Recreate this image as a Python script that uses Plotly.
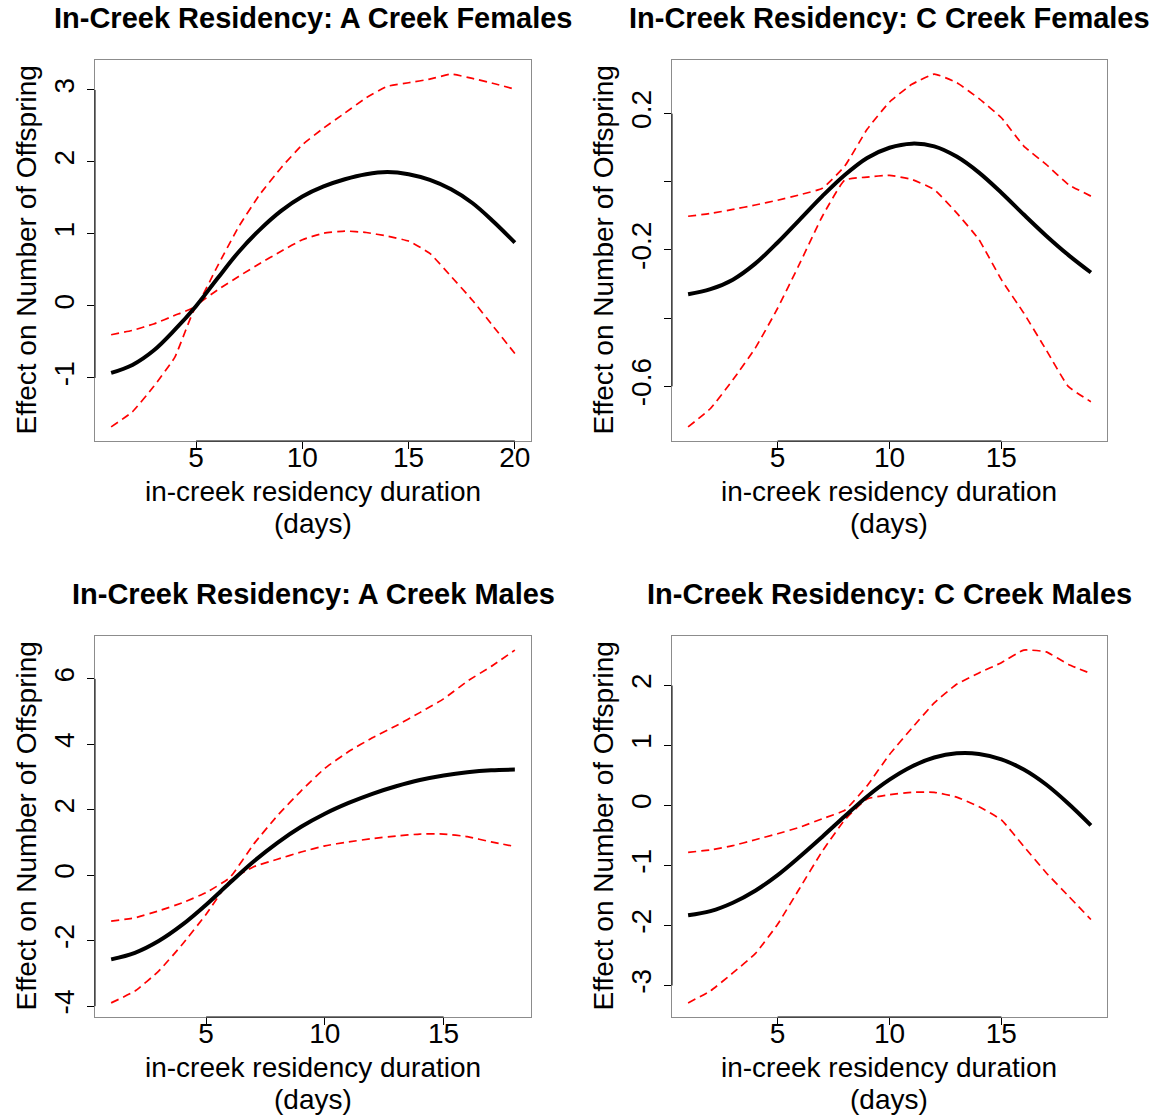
import plotly.graph_objects as go

# ---------------- data ----------------
# Panel A: In-Creek Residency: A Creek Females
days_af = list(range(1, 21))
fit_af = [-0.93, -0.82, -0.62, -0.33, 0.00, 0.38, 0.75, 1.06, 1.32, 1.52,
          1.66, 1.76, 1.83, 1.86, 1.83, 1.75, 1.62, 1.43, 1.17, 0.88]
upper_af = [-0.40, -0.34, -0.25, -0.13, 0.00, 0.55, 1.10, 1.55, 1.92, 2.24,
            2.47, 2.68, 2.89, 3.05, 3.10, 3.15, 3.22, 3.16, 3.09, 3.01]
lower_af = [-1.68, -1.47, -1.12, -0.71, 0.00, 0.22, 0.41, 0.59, 0.76, 0.92,
            1.01, 1.04, 1.02, 0.97, 0.90, 0.73, 0.41, 0.08, -0.29, -0.66]

# Panel B: In-Creek Residency: C Creek Females
days_cf = list(range(1, 20))
fit_cf = [-0.330, -0.315, -0.287, -0.240, -0.178, -0.110, -0.042, 0.020, 0.070, 0.100,
          0.112, 0.104, 0.074, 0.027, -0.032, -0.096, -0.158, -0.215, -0.266]
upper_cf = [-0.101, -0.093, -0.081, -0.068, -0.054, -0.038, -0.019, 0.046, 0.154, 0.234,
            0.286, 0.316, 0.291, 0.244, 0.188, 0.105, 0.051, -0.008, -0.042]
lower_cf = [-0.719, -0.665, -0.581, -0.488, -0.371, -0.238, -0.101, 0.005, 0.014, 0.019,
            0.007, -0.023, -0.091, -0.170, -0.287, -0.385, -0.493, -0.601, -0.645]

# Panel C: In-Creek Residency: A Creek Males
days_am = list(range(1, 19))
fit_am = [-2.57, -2.37, -2.01, -1.51, -0.90, -0.23, 0.42, 0.99, 1.48, 1.88,
          2.21, 2.49, 2.72, 2.91, 3.05, 3.15, 3.21, 3.23]
upper_am = [-1.40, -1.30, -1.09, -0.84, -0.53, -0.07, 0.95, 1.82, 2.58, 3.27,
            3.78, 4.20, 4.57, 4.97, 5.39, 5.93, 6.38, 6.88]
lower_am = [-3.90, -3.54, -2.93, -2.11, -1.19, -0.17, 0.26, 0.49, 0.71, 0.90,
            1.02, 1.12, 1.20, 1.26, 1.26, 1.18, 1.02, 0.88]

# Panel D: In-Creek Residency: C Creek Males
days_cm = list(range(1, 20))
fit_cm = [-1.83, -1.76, -1.62, -1.42, -1.16, -0.85, -0.52, -0.18, 0.15, 0.43,
          0.65, 0.80, 0.87, 0.86, 0.77, 0.60, 0.35, 0.03, -0.33]
upper_cm = [-0.78, -0.74, -0.67, -0.57, -0.47, -0.36, -0.22, -0.08, 0.33, 0.85,
            1.29, 1.71, 2.02, 2.21, 2.38, 2.59, 2.56, 2.35, 2.20]
lower_cm = [-3.29, -3.09, -2.79, -2.47, -1.98, -1.37, -0.76, -0.24, 0.11, 0.18,
            0.22, 0.22, 0.14, -0.02, -0.24, -0.68, -1.12, -1.51, -1.90]

titles = ["In-Creek Residency: A Creek Females", "In-Creek Residency: C Creek Females",
          "In-Creek Residency: A Creek Males", "In-Creek Residency: C Creek Males"]
x_ticks = [[5, 10, 15, 20], [5, 10, 15], [5, 10, 15], [5, 10, 15]]
y_ticks = [[-1, 0, 1, 2, 3], [-0.6, -0.4, -0.2, 0.0, 0.2],
           [-4, -2, 0, 2, 4, 6], [-3, -2, -1, 0, 1, 2]]
y_ticktext = [["-1", "0", "1", "2", "3"], ["-0.6", "", "-0.2", "", "0.2"],
              ["-4", "-2", "0", "2", "4", "6"], ["-3", "-2", "-1", "0", "1", "2"]]
x_label = "in-creek residency duration"
x_label2 = "(days)"
y_label = "Effect on Number of Offspring"

panels = [
    (days_af, fit_af, upper_af, lower_af),
    (days_cf, fit_cf, upper_cf, lower_cf),
    (days_am, fit_am, upper_am, lower_am),
    (days_cm, fit_cm, upper_cm, lower_cm),
]

# ---------------- layout geometry ----------------
W, H = 1151, 1120
FONT = "Liberation Sans, Arial, Helvetica, sans-serif"
box_x = [(95, 531), (672, 1107), (95, 531), (672, 1107)]
box_y = [(60, 441), (60, 441), (636, 1017), (636, 1017)]

fig = go.Figure()
annotations = []
shapes = []

for i, (xs, fit, up, lo) in enumerate(panels):
    n = i + 1
    xa = "x" if n == 1 else f"x{n}"
    ya = "y" if n == 1 else f"y{n}"
    fig.add_trace(go.Scatter(x=xs, y=up, mode="lines", xaxis=xa, yaxis=ya,
                             line=dict(color="#FF0000", width=1.7, dash="8px,5px",
                                       shape="spline", smoothing=0.4),
                             showlegend=False, hoverinfo="skip"))
    fig.add_trace(go.Scatter(x=xs, y=lo, mode="lines", xaxis=xa, yaxis=ya,
                             line=dict(color="#FF0000", width=1.7, dash="8px,5px",
                                       shape="spline", smoothing=0.4),
                             showlegend=False, hoverinfo="skip"))
    fig.add_trace(go.Scatter(x=xs, y=fit, mode="lines", xaxis=xa, yaxis=ya,
                             line=dict(color="black", width=4, shape="spline", smoothing=1.0),
                             showlegend=False))

    # R-style ranges (4% padding)
    xmin, xmax = min(xs), max(xs)
    allv = fit + up + lo
    vmin, vmax = min(allv), max(allv)
    xpad = 0.04 * (xmax - xmin)
    ypad = 0.04 * (vmax - vmin)

    x0, x1 = box_x[i]
    y0, y1 = box_y[i]
    xdom = [x0 / W, x1 / W]
    ydom = [1 - y1 / H, 1 - y0 / H]

    axis_common = dict(showgrid=False, zeroline=False, showline=True, mirror=True,
                       linecolor="#8c8c8c", linewidth=1, ticks="outside", ticklen=7,
                       tickwidth=1, tickcolor="black",
                       tickfont=dict(family=FONT, size=28, color="black"))
    xkey = "xaxis" if n == 1 else f"xaxis{n}"
    ykey = "yaxis" if n == 1 else f"yaxis{n}"
    fig.update_layout(**{
        xkey: dict(axis_common, domain=xdom, anchor=ya,
                   range=[xmin - xpad, xmax + xpad],
                   tickvals=x_ticks[i], ticktext=[str(t) for t in x_ticks[i]],
                   ticklabelstandoff=-16),
        ykey: dict(axis_common, domain=ydom, anchor=xa,
                   range=[vmin - ypad, vmax + ypad],
                   tickvals=y_ticks[i], ticktext=y_ticktext[i],
                   tickangle=-90, ticklabelstandoff=2),
    })

    # black axis segments spanning first..last tick (R style)
    shapes.append(dict(type="line", xref=f"{xa} domain", yref=ya,
                       x0=0, x1=0, y0=y_ticks[i][0], y1=y_ticks[i][-1],
                       line=dict(color="black", width=1)))
    shapes.append(dict(type="line", xref=xa, yref=f"{ya} domain",
                       x0=x_ticks[i][0], x1=x_ticks[i][-1], y0=0, y1=0,
                       line=dict(color="black", width=1)))

    cx = (x0 + x1) / 2 / W
    # title
    annotations.append(dict(text=f"<b>{titles[i]}</b>", x=cx, y=1 - (y0 - 42) / H,
                            xref="paper", yref="paper", showarrow=False,
                            xanchor="center", yanchor="middle",
                            font=dict(family=FONT, size=29, color="black")))
    # x label (two lines)
    annotations.append(dict(text=x_label, x=cx, y=1 - (y1 + 50) / H,
                            xref="paper", yref="paper", showarrow=False,
                            xanchor="center", yanchor="middle",
                            font=dict(family=FONT, size=28, color="black")))
    annotations.append(dict(text=x_label2, x=cx, y=1 - (y1 + 82) / H,
                            xref="paper", yref="paper", showarrow=False,
                            xanchor="center", yanchor="middle",
                            font=dict(family=FONT, size=28, color="black")))
    # y label
    annotations.append(dict(text=y_label, x=(x0 - 69) / W, y=1 - (y0 + y1) / 2 / H,
                            xref="paper", yref="paper", showarrow=False,
                            xanchor="center", yanchor="middle", textangle=-90,
                            font=dict(family=FONT, size=28, color="black")))

fig.update_layout(width=W, height=H, margin=dict(l=0, r=0, t=0, b=0),
                  paper_bgcolor="white", plot_bgcolor="white",
                  annotations=annotations, shapes=shapes,
                  font=dict(family=FONT, color="black"))

fig.write_html("out.html", config={"displayModeBar": False},
               post_script="document.body.style.margin='0';document.body.style.overflow='hidden';")
